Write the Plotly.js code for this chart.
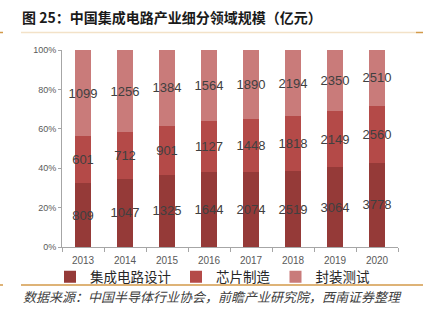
<!DOCTYPE html>
<html>
<head>
<meta charset="utf-8">
<script src="https://cdn.plot.ly/plotly-3.0.1.min.js"></script>
<style>html,body{margin:0;padding:0;background:#fff;}#chart{width:425px;height:324px;}</style>
</head>
<body>
<div id="chart"></div>
<script>
const years = ['2013','2014','2015','2016','2017','2018','2019','2020'];
const design = [809, 1047, 1325, 1644, 2074, 2519, 3064, 3778];
const manufacturing = [601, 712, 901, 1127, 1448, 1818, 2149, 2560];
const packaging = [1099, 1256, 1384, 1564, 1890, 2194, 2350, 2510];
const seriesNames = ['集成电路设计', '芯片制造', '封装测试'];
const yTicks = [0, 20, 40, 60, 80, 100];

const colors = ['#953a38', '#b44a48', '#c97b7a'];
const cjk = '"Noto Sans CJK SC", "Noto Sans", sans-serif';

function mk(vals, name, color) {
  return {
    type: 'bar', x: years, y: vals, name: name,
    text: vals.map(String), textposition: 'inside', insidetextanchor: 'middle',
    textangle: 0, constraintext: 'none',
    textfont: {family: 'Liberation Sans, Arial, sans-serif', size: 13, color: '#404040'},
    marker: {color: color, line: {width: 0}},
    hoverinfo: 'none'
  };
}

const data = [
  mk(design, seriesNames[0], colors[0]),
  mk(manufacturing, seriesNames[1], colors[1]),
  mk(packaging, seriesNames[2], colors[2])
];

const L = 62, R = 398, T = 50, B = 247;
const px = x => (x - L) / (R - L);
const py = y => (B - y) / (B - T);

const layout = {
  width: 425, height: 324,
  margin: {l: L, r: 425 - R, t: T, b: 324 - B},
  paper_bgcolor: '#fff', plot_bgcolor: '#fff',
  barmode: 'stack', barnorm: 'percent', bargap: 0.6,
  showlegend: true,
  title: {
    text: '<b>图 25：中国集成电路产业细分领域规模（亿元）</b>',
    font: {family: cjk, size: 14, color: '#1a1a1a'},
    xref: 'container', yref: 'container', x: 22/425, xanchor: 'left', y: 1 - 18/324, yanchor: 'middle'
  },
  xaxis: {
    type: 'category', tickson: 'boundaries', ticks: 'outside', ticklen: 4, tickcolor: '#a6a6a6',
    showline: true, linecolor: '#a6a6a6', linewidth: 1, showgrid: false, zeroline: false,
    tickfont: {family: 'Liberation Sans, Arial, sans-serif', size: 10, color: '#595959'},
    ticklabelstandoff: 4,
    fixedrange: true
  },
  yaxis: {
    range: [0, 100], tickvals: yTicks, ticktext: yTicks.map(v => v + '%'),
    ticks: 'outside', ticklen: 3, tickcolor: '#a6a6a6',
    showline: true, linecolor: '#a6a6a6', linewidth: 1, showgrid: false, zeroline: false,
    tickfont: {family: 'Liberation Sans, Arial, sans-serif', size: 9, color: '#595959'},
    fixedrange: true
  },
  legend: {
    orientation: 'h', x: px(50), xanchor: 'left', y: py(277), yanchor: 'middle',
    bgcolor: 'rgba(0,0,0,0)',
    font: {family: cjk, size: 13.5, color: '#262626'}, itemwidth: 30,
    traceorder: 'normal'
  },
  shapes: [
    {type: 'line', xref: 'paper', yref: 'paper', x0: px(0), x1: px(3), y0: py(32.5), y1: py(32.5), line: {color: '#d39a4a', width: 1.5}},
    {type: 'line', xref: 'paper', yref: 'paper', x0: px(21), x1: px(416), y0: py(32.5), y1: py(32.5), line: {color: '#f3e2c8', width: 1.5}},
    {type: 'line', xref: 'paper', yref: 'paper', x0: px(416), x1: px(423), y0: py(32.5), y1: py(32.5), line: {color: '#d39a4a', width: 1.5}},
    {type: 'line', xref: 'paper', yref: 'paper', x0: px(0), x1: px(3), y0: py(285), y1: py(285), line: {color: '#d39a4a', width: 1.5}},
    {type: 'line', xref: 'paper', yref: 'paper', x0: px(21), x1: px(423), y0: py(285), y1: py(285), line: {color: '#d39a4a', width: 1.5}}
  ],
  annotations: [
    {text: '数据来源：中国半导体行业协会，前瞻产业研究院，西南证券整理', xref: 'paper', yref: 'paper',
     x: px(21), xanchor: 'left', y: py(296.5), yanchor: 'middle', showarrow: false,
     font: {family: cjk, size: 13, color: '#404040', style: 'italic'}}
  ]
};

Plotly.newPlot('chart', data, layout, {displayModeBar: false, staticPlot: true});
</script>
</body>
</html>
